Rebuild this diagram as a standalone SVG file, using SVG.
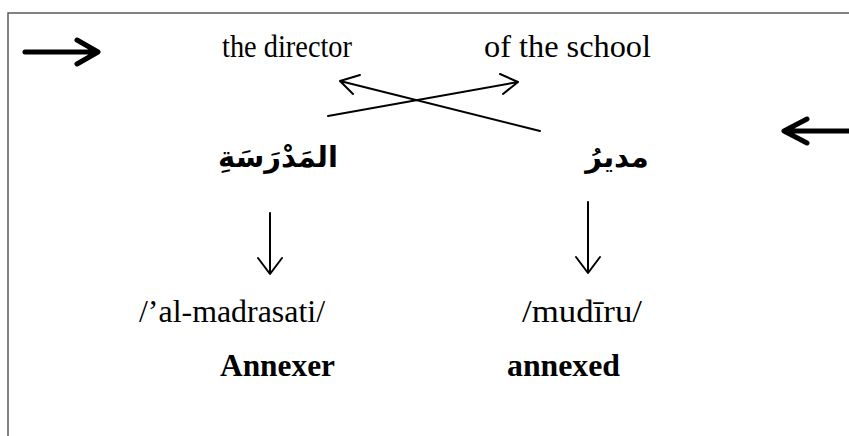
<svg xmlns="http://www.w3.org/2000/svg" width="849" height="436" viewBox="0 0 849 436">
<style>
.lat{font-family:"Liberation Serif","Times New Roman",serif;font-size:32px;fill:#000}
.bold{font-weight:bold}
.ar{font-family:"DejaVu Sans","Noto Sans",sans-serif;font-size:29px;font-weight:bold;fill:#000}
.thin{stroke:#000;stroke-width:2;fill:none;stroke-linecap:round;stroke-linejoin:round}
.thick{stroke:#000;stroke-width:5;fill:none;stroke-linecap:round;stroke-linejoin:round}
</style>
<rect width="849" height="436" fill="#fff"/>
<path d="M8,436 V13 H849" fill="none" stroke="#5a5a5a" stroke-width="1.5"/>
<g id="gloss-director"><text class="lat" x="222" y="57" textLength="130" lengthAdjust="spacingAndGlyphs">the director</text></g>
<g id="gloss-school"><text class="lat" x="484" y="57" textLength="167" lengthAdjust="spacingAndGlyphs">of the school</text></g>
<g id="ar-madrasa"><text class="ar" x="278" y="167" text-anchor="middle">المَدْرَسَةِ</text></g>
<g id="ar-mudir"><text class="ar" x="617" y="167" text-anchor="middle">مديرُ</text></g>
<g id="tr-madrasa"><text class="lat" x="139" y="322" textLength="186" lengthAdjust="spacingAndGlyphs">/’al-madrasati/</text></g>
<g id="tr-mudir"><text class="lat" x="522" y="322" textLength="120" lengthAdjust="spacingAndGlyphs">/mudīru/</text></g>
<g id="label-annexer"><text class="lat bold" x="220" y="376" textLength="115" lengthAdjust="spacingAndGlyphs">Annexer</text></g>
<g id="label-annexed"><text class="lat bold" x="507" y="376" textLength="113" lengthAdjust="spacingAndGlyphs">annexed</text></g>
<g id="connectors">
<path class="thick" d="M25,52 H96 M77,40 L98,52 L77,64"/>
<path class="thick" d="M849,131 H786 M807,119 L784,131 L807,143"/>
<path class="thin" d="M328,116 L518,82 M500,74 L518,82 L503,94"/>
<path class="thin" d="M540,131 L340,81 M360,75 L340,81 L353,94"/>
<path class="thin" d="M270,213 V273 M258,258 L270,274 L282,258"/>
<path class="thin" d="M588,202 V272 M576,257 L588,273 L600,257"/>
</g>
</svg>
